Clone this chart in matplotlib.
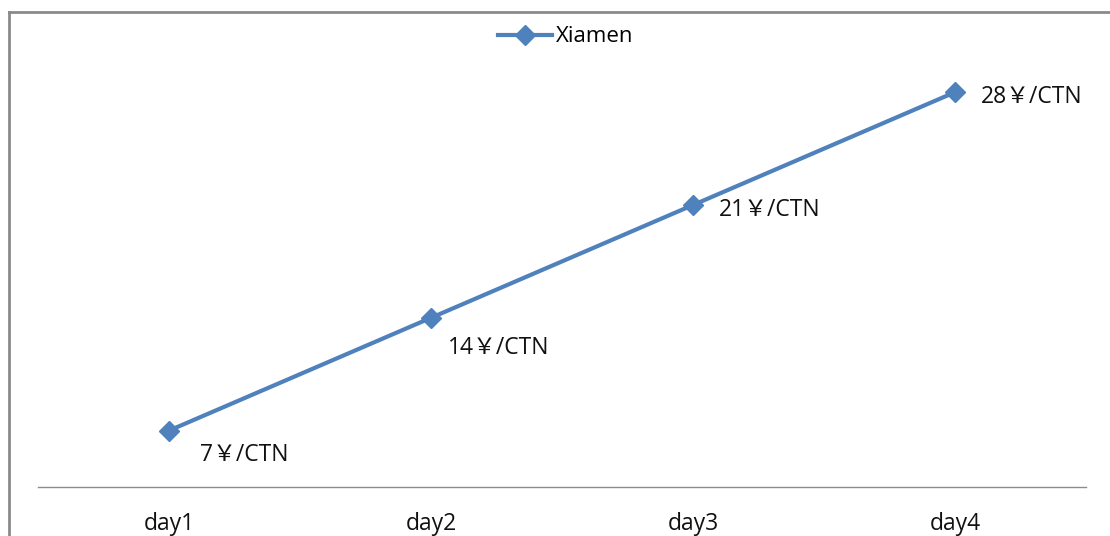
import matplotlib
matplotlib.use("Agg")
import matplotlib.pyplot as plt
from matplotlib.lines import Line2D

plt.rcParams['font.family'] = ['Open Sans', 'Noto Sans CJK SC', 'DejaVu Sans']

days = ["day1", "day2", "day3", "day4"]
prices = [7, 14, 21, 28]
labels = ["7￥/CTN", "14￥/CTN", "21￥/CTN", "28￥/CTN"]
series_name = "Xiamen"

W, H = 1110, 536
fig = plt.figure(figsize=(W / 100, H / 100), dpi=100)
ax = fig.add_axes([38 / W, 1 - 487 / H, (1086 - 38) / W, (487 - 60) / H])

x = [i + 0.5 for i in range(len(days))]
line_color = "#4F81BD"
ax.plot(x, prices, color=line_color, linewidth=3, marker="D", markersize=10,
        label=series_name)

# data labels: first two sit below-right, last two to the right
offsets = [(31, -24), (17, -30), (26, -5), (26, -5)]
for xi, yi, lab, off in zip(x, prices, labels, offsets):
    ax.annotate(lab, (xi, yi), xytext=off, textcoords="offset pixels",
                ha="left", va="center", fontsize=16.5, color="#111111")

ax.set_xlim(0, 4)
ax.set_ylim(3.5, 30)
ax.set_xticks(x)
ax.set_xticklabels(days, fontsize=16.5, color="#111111")
ax.tick_params(axis="x", length=0, pad=18)
ax.set_yticks([])
for side in ["top", "right", "left"]:
    ax.spines[side].set_visible(False)
ax.spines["bottom"].set_color("#8c8c8c")
ax.spines["bottom"].set_linewidth(1)

ax.legend(loc="center", bbox_to_anchor=(566 / W, 1 - 37 / H),
          bbox_transform=fig.transFigure, frameon=False, fontsize=16,
          handlelength=2.4, handletextpad=0.2)

# chart border (top and left edges)
fig.add_artist(Line2D([9 / W, 1], [1 - 12 / H, 1 - 12 / H], color="#8a8a8a",
                      linewidth=2, transform=fig.transFigure))
fig.add_artist(Line2D([9 / W, 9 / W], [0, 1 - 12 / H], color="#8a8a8a",
                      linewidth=2, transform=fig.transFigure))

fig.savefig("out.png", dpi=100)
